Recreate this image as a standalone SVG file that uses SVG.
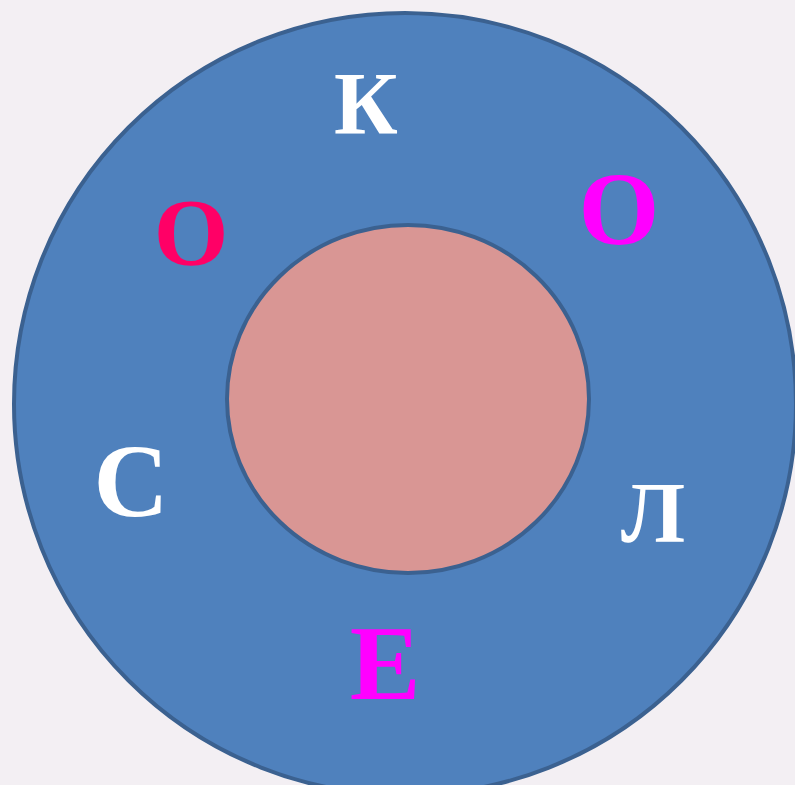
<svg xmlns="http://www.w3.org/2000/svg" width="795" height="785" viewBox="0 0 795 785">
  <style>
    .ring { fill: #4F81BD; stroke: #3B6190; stroke-width: 4; }
    .core { fill: #D99694; stroke: #3B6190; stroke-width: 4; }
    .lt { font-family: "Liberation Serif", "Times New Roman", serif; font-weight: bold; text-anchor: middle; }
  </style>
  <rect x="0" y="0" width="795" height="785" fill="#F3EFF3"/>
  <g id="outer-ring">
    <circle class="ring" cx="405" cy="404" r="391"/>
  </g>
  <g id="inner-circle">
    <ellipse class="core" cx="408" cy="399" rx="181" ry="174"/>
  </g>
  <g id="letter-k">
    <text class="lt" x="366" y="133" font-size="88" fill="#FFFFFF">К</text>
  </g>
  <g id="letter-o-left">
    <text class="lt" x="191" y="265" font-size="96" fill="#FF0066">О</text>
  </g>
  <g id="letter-o-right">
    <text class="lt" x="619" y="244" font-size="104" fill="#FF00FF">О</text>
  </g>
  <g id="letter-s">
    <text class="lt" x="131" y="516" font-size="104" fill="#FFFFFF">С</text>
  </g>
  <g id="letter-l">
    <text class="lt" x="653" y="542" font-size="86" fill="#FFFFFF">Л</text>
  </g>
  <g id="letter-e">
    <text class="lt" x="385" y="699" font-size="106" fill="#FF00FF">Е</text>
  </g>
</svg>
